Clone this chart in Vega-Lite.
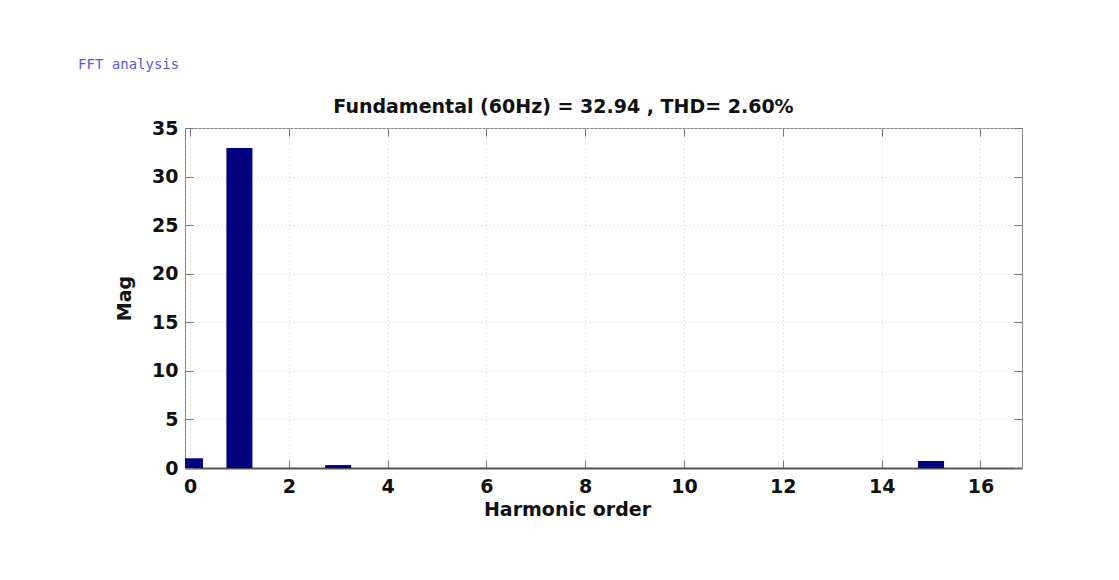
{
  "$schema": "https://vega.github.io/schema/vega-lite/v6.json",
  "background": "white",
  "padding": {"left": 78, "top": 57, "right": 10, "bottom": 10},
  "title": {
    "text": "FFT analysis",
    "anchor": "start",
    "font": "DejaVu Sans Mono",
    "fontSize": 14,
    "fontWeight": "normal",
    "color": "#5a5ad8",
    "dx": -37,
    "offset": 26
  },
  "data": {
    "values": [
      {"order": 0, "mag": 1.0},
      {"order": 1, "mag": 32.94},
      {"order": 2, "mag": 0.0},
      {"order": 3, "mag": 0.3},
      {"order": 4, "mag": 0.0},
      {"order": 5, "mag": 0.0},
      {"order": 6, "mag": 0.0},
      {"order": 7, "mag": 0.0},
      {"order": 8, "mag": 0.0},
      {"order": 9, "mag": 0.0},
      {"order": 10, "mag": 0.0},
      {"order": 11, "mag": 0.0},
      {"order": 12, "mag": 0.0},
      {"order": 13, "mag": 0.0},
      {"order": 14, "mag": 0.0},
      {"order": 15, "mag": 0.72},
      {"order": 16, "mag": 0.0}
    ]
  },
  "vconcat": [
    {
      "title": {
        "text": "Fundamental (60Hz) = 32.94 , THD= 2.60%",
        "font": "DejaVu Sans",
        "fontSize": 19,
        "fontWeight": "bold",
        "color": "#111111",
        "anchor": "middle",
        "dx": -40,
        "offset": 2
      },
      "width": 837,
      "height": 340,
      "layer": [
        {
          "mark": {"type": "bar", "size": 26, "color": "#000080", "clip": true},
          "encoding": {
            "x": {
              "field": "order",
              "type": "quantitative",
              "scale": {"domain": [0, 16.74], "nice": false, "zero": false},
              "axis": {
                "orient": "bottom",
                "values": [0, 2, 4, 6, 8, 10, 12, 14, 16],
                "format": "d",
                "labelFont": "DejaVu Sans",
                "labelFontWeight": "bold",
                "labelFontSize": 19,
                "labelColor": "#111111",
                "labelPadding": 17,
                "labelFlush": false,
                "tickSize": -8,
                "tickColor": "#777777",
                "domainColor": "#555555",
                "domainWidth": 2,
                "grid": true,
                "gridColor": "#d2d2d2",
                "gridDash": [1, 3],
                "title": "Harmonic order",
                "titleFont": "DejaVu Sans",
                "titleFontWeight": "bold",
                "titleFontSize": 19,
                "titleColor": "#111111",
                "titlePadding": 4,
                "titleX": 382
              }
            },
            "y": {
              "field": "mag",
              "type": "quantitative",
              "scale": {"domain": [0, 35], "nice": false},
              "axis": {
                "orient": "left",
                "values": [0, 5, 10, 15, 20, 25, 30, 35],
                "labelFont": "DejaVu Sans",
                "labelFontWeight": "bold",
                "labelFontSize": 19,
                "labelColor": "#111111",
                "labelPadding": 15,
                "labelFlush": false,
                "tickSize": -8,
                "tickColor": "#777777",
                "domainColor": "#888888",
                "grid": true,
                "gridColor": "#d2d2d2",
                "gridDash": [1, 3],
                "title": "Mag",
                "titleFont": "DejaVu Sans",
                "titleFontWeight": "bold",
                "titleFontSize": 19,
                "titleColor": "#111111",
                "titlePadding": 17
              }
            }
          }
        },
        {
          "mark": {"type": "bar", "size": 26, "opacity": 0, "clip": true},
          "encoding": {
            "x": {
              "field": "order",
              "type": "quantitative",
              "axis": {
                "orient": "top",
                "values": [0, 2, 4, 6, 8, 10, 12, 14, 16],
                "labels": false,
                "tickSize": -8,
                "tickColor": "#777777",
                "domain": false,
                "grid": false,
                "title": null
              }
            },
            "y": {
              "field": "mag",
              "type": "quantitative",
              "axis": {
                "orient": "right",
                "values": [0, 5, 10, 15, 20, 25, 30, 35],
                "labels": false,
                "tickSize": -8,
                "tickColor": "#777777",
                "domain": false,
                "grid": false,
                "title": null
              }
            }
          }
        }
      ],
      "resolve": {"axis": {"x": "independent", "y": "independent"}}
    }
  ],
  "config": {
    "view": {"stroke": "#888888", "strokeWidth": 1}
  }
}
